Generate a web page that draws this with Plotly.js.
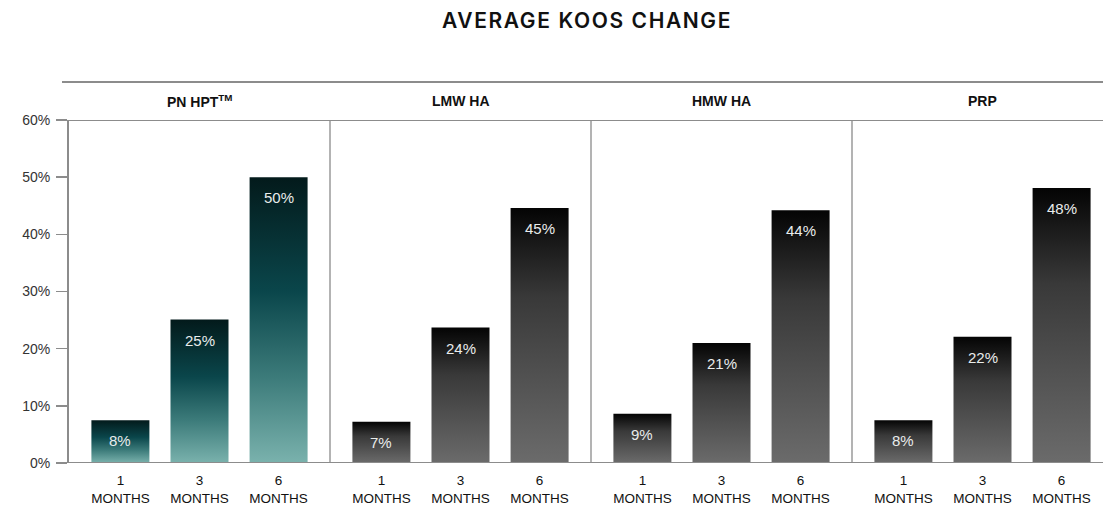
<!DOCTYPE html>
<html>
<head>
<meta charset="utf-8">
<script src="https://cdn.plot.ly/plotly-3.0.1.min.js"></script>
<style>
html,body{margin:0;padding:0;background:#fff;}
#chart{width:1103px;height:507px;}
</style>
</head>
<body>
<div id="chart"></div>
<script>
// ---- data ----
const months = ["1", "3", "6"];
const monthTickText = ["1<br>MONTHS", "3<br>MONTHS", "6<br>MONTHS"];
const groups = ["PN HPT<sup>TM</sup>", "LMW HA", "HMW HA", "PRP"];
const pnHpt = [7.5, 25.1, 50.0];
const lmwHa = [7.2, 23.7, 44.6];
const hmwHa = [8.6, 21.0, 44.2];
const prp   = [7.5, 22.1, 48.1];
const yTicks = [0, 10, 20, 30, 40, 50, 60];

const series = [pnHpt, lmwHa, hmwHa, prp];
const gradIds = ["gradTeal", "gradGray", "gradGray", "gradGray"];

// ---- layout geometry ----
const W = 1103, H = 507;
const mL = 69, mR = 0, mT = 120, mB = 44;
const plotW = W - mL - mR;
const panelPx = 261;
const unitPx = panelPx / 3.3;
const domains = [];
for (let i = 0; i < 4; i++) {
  const a = i * panelPx / plotW;
  const b = Math.min(1, (i + 1) * panelPx / plotW);
  domains.push([a, b]);
}

const LINE = "#8c8c8c";
const fontBase = "Liberation Sans, Arial, sans-serif";

const traces = series.map((vals, i) => ({
  type: "bar",
  x: months.map((m, j) => j),
  y: vals,
  xaxis: i === 0 ? "x" : "x" + (i + 1),
  yaxis: "y",
  width: 58 / unitPx,
  marker: {color: i === 0 ? "#0b4a4f" : "#3a3a3a", line: {width: 0}},
  hoverinfo: "skip",
  showlegend: false,
  name: groups[i]
}));

const layout = {
  width: W, height: H,
  margin: {l: mL, r: mR, t: mT, b: mB, pad: 0},
  paper_bgcolor: "#fff",
  plot_bgcolor: "#fff",
  showlegend: false,
  font: {family: fontBase, color: "#222"},
  title: {
    text: "AVERAGE KOOS CHANGE",
    font: {family: "Inter, Liberation Sans, sans-serif", size: 21, color: "#111", weight: 600},
    x: 587 / W, xref: "container", xanchor: "center",
    y: 1 - 21 / H, yref: "container", yanchor: "middle"
  },
  yaxis: {
    range: [0, 60],
    tickvals: yTicks,
    ticktext: yTicks.map(v => v + "%"),
    ticks: "outside", ticklen: 11, tickwidth: 1.5, tickcolor: LINE,
    showline: true, linecolor: LINE, linewidth: 2,
    showgrid: false, zeroline: false,
    tickfont: {family: fontBase, size: 14, color: "#333"},
    ticklabelstandoff: 3,
    fixedrange: true
  },
  shapes: [],
  annotations: []
};

for (let i = 0; i < 4; i++) {
  const key = i === 0 ? "xaxis" : "xaxis" + (i + 1);
  const widthPx = (domains[i][1] - domains[i][0]) * plotW;
  const r0 = -0.65;
  layout[key] = {
    domain: domains[i],
    anchor: "y",
    range: [r0, r0 + widthPx / unitPx],
    tickvals: [0, 1, 2],
    ticktext: monthTickText,
    ticks: "outside", ticklen: 5, tickcolor: "rgba(0,0,0,0)",
    showline: false, showgrid: false, zeroline: false,
    tickfont: {family: fontBase, size: 13.5, color: "#111"},
    fixedrange: true
  };
  const xr = i === 0 ? "x" : "x" + (i + 1);
  // panel header
  layout.annotations.push({
    text: "<b>" + groups[i] + "</b>",
    xref: xr, x: 1, yref: "paper", y: (H - mB - 101) / (H - mT - mB),
    xanchor: "center", yanchor: "middle", showarrow: false,
    font: {family: fontBase, size: 14, color: "#111"}
  });
  // value labels
  series[i].forEach((v, j) => {
    layout.annotations.push({
      text: Math.round(v) + "%",
      xref: xr, x: j, yref: "y", y: v,
      xanchor: "center", yanchor: "top", yshift: -10, showarrow: false,
      font: {family: fontBase, size: 15, color: "#e9ecec"}
    });
  });
  // separators
  if (i > 0) {
    layout.shapes.push({
      type: "line", xref: "paper", yref: "y",
      x0: domains[i][0], x1: domains[i][0], y0: 0, y1: 60,
      line: {color: "#9a9a9a", width: 1.5}
    });
  }
}
// baseline and top line of plot
layout.shapes.push({type: "line", xref: "paper", yref: "y", x0: 0, x1: 1, y0: 0, y1: 0, line: {color: LINE, width: 2}});
layout.shapes.push({type: "line", xref: "paper", yref: "y", x0: 0, x1: 1, y0: 60, y1: 60, line: {color: LINE, width: 2}});
// header top line
layout.shapes.push({type: "line", xref: "paper", yref: "paper",
  x0: (62 - mL) / plotW, x1: 1,
  y0: (H - mB - 82) / (H - mT - mB), y1: (H - mB - 82) / (H - mT - mB),
  line: {color: LINE, width: 2}});

Plotly.newPlot("chart", traces, layout, {displayModeBar: false, staticPlot: true}).then(gd => {
  const svg = gd.querySelector("svg.main-svg");
  const NS = "http://www.w3.org/2000/svg";
  let defs = svg.querySelector("defs");
  if (!defs) { defs = document.createElementNS(NS, "defs"); svg.insertBefore(defs, svg.firstChild); }
  function addGrad(id, stops) {
    const g = document.createElementNS(NS, "linearGradient");
    g.setAttribute("id", id);
    g.setAttribute("x1", "0"); g.setAttribute("y1", "0");
    g.setAttribute("x2", "0"); g.setAttribute("y2", "1");
    stops.forEach(s => {
      const st = document.createElementNS(NS, "stop");
      st.setAttribute("offset", s[0]);
      st.setAttribute("stop-color", s[1]);
      g.appendChild(st);
    });
    defs.appendChild(g);
  }
  addGrad("gradTeal", [["0", "#031a1b"], ["0.4", "#0a464b"], ["0.7", "#3c7b7a"], ["1", "#7ab2ad"]]);
  addGrad("gradGray", [["0", "#040404"], ["0.35", "#393939"], ["1", "#6b6b6b"]]);
  gd.querySelectorAll(".barlayer .trace").forEach((tg, i) => {
    tg.querySelectorAll(".point path").forEach(p => {
      p.style.fill = "url(#" + gradIds[i] + ")";
    });
  });
  // letter-spaced title like the reference
  const t = gd.querySelector(".gtitle");
  if (t) { t.style.letterSpacing = "1.6px"; }
});
</script>
</body>
</html>
